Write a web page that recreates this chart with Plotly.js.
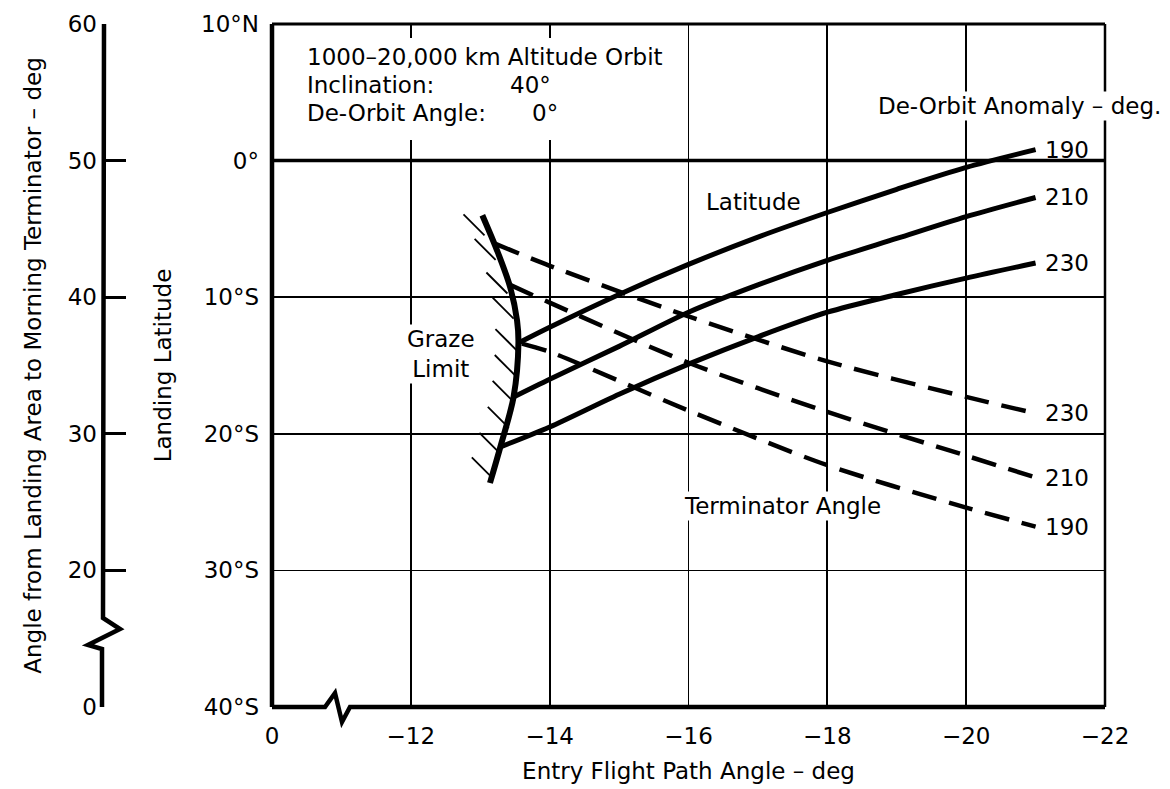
<!DOCTYPE html>
<html><head><meta charset="utf-8">
<script src="https://cdn.plot.ly/plotly-3.0.1.min.js"></script>
<style>html,body{margin:0;padding:0;background:#fff}</style>
</head><body>
<div id="chart" style="width:1170px;height:789px"></div>
<script>
// ---------- axis ticks ----------
// Entry flight path angle: the "0" tick sits at the axis-break position (-10)
const xTickVals = [-10, -12, -14, -16, -18, -20, -22];
const xTickText = ['0', '\u221212', '\u221214', '\u221216', '\u221218', '\u221220', '\u221222'];
// Landing latitude
const latTickVals = [10, 0, -10, -20, -30, -40];
const latTickText = ['10\u00b0N', '0\u00b0', '10\u00b0S', '20\u00b0S', '30\u00b0S', '40\u00b0S'];
// Angle from landing area to morning terminator (the "0" tick sits at the break position 10)
const termTickVals = [10, 20, 30, 40, 50, 60];
const termTickText = ['0', '20', '30', '40', '50', '60'];

// ---------- landing latitude curves (solid), by de-orbit anomaly ----------
const lat190X = [-13.55, -14, -15, -16, -17, -18, -19, -20, -21];
const lat190Y = [-13.35, -12.2, -9.8, -7.6, -5.6, -3.8, -2.1, -0.5, 0.8];
const lat210X = [-13.48, -14, -15, -16, -17, -18, -19, -20, -21];
const lat210Y = [-17.3, -16.0, -13.6, -11.1, -9.1, -7.3, -5.7, -4.1, -2.7];
const lat230X = [-13.29, -14, -15, -16, -17, -18, -19, -20, -21];
const lat230Y = [-20.96, -19.5, -17.1, -14.9, -12.9, -11.1, -9.8, -8.6, -7.5];

// ---------- terminator angle curves (dashed, left scale, deg) ----------
const term230X = [-13.22, -14, -16, -18, -20, -21];
const term230Y = [43.9, 42.3, 38.6, 35.3, 32.7, 31.5];
const term210X = [-13.43, -14, -16, -18, -20, -21];
const term210Y = [40.9, 39.6, 35.2, 31.6, 28.4, 26.8];
const term190X = [-13.6, -14, -16, -18, -20, -21];
const term190Y = [36.6, 36.0, 31.7, 27.7, 24.6, 23.2];

// ---------- graze limit ----------
const grazeX = [-13.03, -13.24, -13.43, -13.53, -13.55, -13.48, -13.29, -13.14];
const grazeY = [-4.0, -6.55, -9.25, -11.7, -13.35, -17.3, -20.96, -23.6];
// hatch marks on the forbidden side of the graze limit
const hatchX = [-12.91, -13.07, -13.24, -13.33, -13.37, -13.36, -13.33, -13.26, -13.14, -13.03];
const hatchY = [-4.7, -6.5, -8.96, -10.8, -13.1, -15.0, -16.9, -18.8, -20.7, -22.5];

// ---------- styling / geometry helpers (decoration only) ----------
const FONT = 'DejaVu Sans';
const FS = 23;
const M = {l: 60, r: 65, t: 24, b: 82};
const W = 1170, H = 789;
const PW = W - M.l - M.r, PH = H - M.t - M.b;
const PX = p => (p - M.l) / PW;        // pixel x -> paper x
const PY = p => (H - M.b - p) / PH;     // pixel y -> paper y
const LEFT = 272, RIGHT = W - M.r, TOP = M.t, BOT = H - M.b;

const solid = (x, y, name) => ({x, y, name, type: 'scatter', mode: 'lines',
  line: {color: '#000', width: 5, shape: 'spline', smoothing: 0.8}, hoverinfo: 'skip'});
const dashed = (x, y, name) => ({x, y, name, type: 'scatter', mode: 'lines', yaxis: 'y2',
  line: {color: '#000', width: 4.5, dash: '25px,13px', shape: 'spline', smoothing: 0.8}, hoverinfo: 'skip'});

const traces = [
  solid(lat190X, lat190Y, 'Latitude 190'),
  solid(lat210X, lat210Y, 'Latitude 210'),
  solid(lat230X, lat230Y, 'Latitude 230'),
  dashed(term190X, term190Y, 'Terminator 190'),
  dashed(term210X, term210Y, 'Terminator 210'),
  dashed(term230X, term230Y, 'Terminator 230'),
  {x: grazeX, y: grazeY, name: 'Graze limit', type: 'scatter', mode: 'lines',
   line: {color: '#000', width: 6, shape: 'spline', smoothing: 0.9}, hoverinfo: 'skip'},
  {x: hatchX, y: hatchY, name: 'hatch', type: 'scatter', mode: 'markers',
   marker: {symbol: 'line-nw', size: 21, color: '#000', line: {color: '#000', width: 1.8}}, hoverinfo: 'skip'}
];

const ln = (x0, y0, x1, y1, w) => ({type: 'line', xref: 'paper', yref: 'paper',
  x0: PX(x0), y0: PY(y0), x1: PX(x1), y1: PY(y1), line: {color: '#000', width: w}, layer: 'above'});
const pathP = (pts, w) => ({type: 'path', xref: 'paper', yref: 'paper', layer: 'above',
  path: pts.map((p, i) => (i ? 'L' : 'M') + PX(p[0]) + ',' + PY(p[1])).join(' '),
  line: {color: '#000', width: w}});

const shapes = [
  // white gap behind the orbit description
  {type: 'rect', xref: 'paper', yref: 'paper', x0: PX(300), x1: PX(665), y0: PY(140), y1: PY(38),
   fillcolor: '#fff', line: {width: 0}, layer: 'above'},
  // white gap behind the x-axis break
  {type: 'rect', xref: 'paper', yref: 'paper', x0: PX(322), x1: PX(353), y0: PY(713), y1: PY(701),
   fillcolor: '#fff', line: {width: 0}, layer: 'above'},
  ln(LEFT, TOP, LEFT, BOT, 4.5),
  ln(LEFT, TOP, RIGHT, TOP, 3),
  ln(RIGHT, TOP, RIGHT, BOT, 2.5),
  pathP([[LEFT, BOT], [325, BOT], [335, 693], [342, 722], [350, BOT], [RIGHT, BOT]], 4.5),
  // equator emphasised
  {type: 'line', xref: 'x', yref: 'y', x0: -10, x1: -22, y0: 0, y1: 0, line: {color: '#000', width: 3.5}, layer: 'above'},
  // terminator scale spine with its break
  pathP([[104, TOP], [103, 618], [120, 629], [88, 645], [102, 649], [102, BOT]], 4.5)
];

const ann = (text, x, y, opts) => Object.assign({text, x: PX(x), y: PY(y), xref: 'paper', yref: 'paper',
  showarrow: false, xanchor: 'center', yanchor: 'middle', font: {family: FONT, size: FS, color: '#000'}}, opts || {});

const annotations = [
  ann('1000\u201320,000 km Altitude Orbit', 305, 57, {xanchor: 'left'}),
  ann('Inclination:', 305, 85, {xanchor: 'left'}),
  ann('40\u00b0', 508, 85, {xanchor: 'left'}),
  ann('De-Orbit Angle:', 305, 113, {xanchor: 'left'}),
  ann('0\u00b0', 530, 113, {xanchor: 'left'}),
  ann('De-Orbit Anomaly \u2013 deg.', 1163, 106, {xanchor: 'right', bgcolor: '#fff'}),
  ann('Latitude', 753, 202),
  ann('Terminator Angle', 782, 506, {bgcolor: '#fff'}),
  ann('Graze<br>Limit', 441, 354, {bgcolor: '#fff'}),
];
// curve-end labels, placed at the last value of each series
[[lat190X, lat190Y, '190', 'y'], [lat210X, lat210Y, '210', 'y'], [lat230X, lat230Y, '230', 'y'],
 [term230X, term230Y, '230', 'y2'], [term210X, term210Y, '210', 'y2'], [term190X, term190Y, '190', 'y2']]
.forEach(([xs, ys, t, yr]) => annotations.push({text: t, x: xs[xs.length - 1] - 0.45, y: ys[ys.length - 1],
  xref: 'x', yref: yr, showarrow: false, xanchor: 'center', yanchor: 'middle',
  font: {family: FONT, size: FS, color: '#000'}}));

const layout = {
  width: W, height: H, margin: M, showlegend: false,
  paper_bgcolor: '#fff', plot_bgcolor: '#fff',
  font: {family: FONT, size: FS, color: '#000'},
  xaxis: {domain: [PX(LEFT), 1], range: [-10, -22], tickvals: xTickVals, ticktext: xTickText,
    showgrid: true, gridcolor: '#000', gridwidth: 1.8, zeroline: false, showline: false, ticks: '',
    ticklabelstandoff: 13, tickfont: {family: FONT, size: FS},
    title: {text: 'Entry Flight Path Angle \u2013 deg', font: {family: FONT, size: FS}, standoff: 14}},
  yaxis: {range: [-40, 10], tickvals: latTickVals, ticktext: latTickText,
    showgrid: true, gridcolor: '#000', gridwidth: 1.8, zeroline: false, showline: false, ticks: '',
    ticklabelstandoff: 12, tickfont: {family: FONT, size: FS},
    title: {text: 'Landing Latitude', font: {family: FONT, size: FS}, standoff: 22}},
  yaxis2: {overlaying: 'y', anchor: 'free', position: PX(103), side: 'left', range: [10, 60],
    tickvals: termTickVals, ticktext: termTickText, showgrid: false, zeroline: false, showline: false,
    ticks: 'inside', ticklen: 22, tickwidth: 3, tickcolor: '#000', ticklabelstandoff: 6,
    tickfont: {family: FONT, size: FS},
    title: {text: 'Angle from Landing Area to Morning Terminator \u2013 deg', font: {family: FONT, size: FS}, standoff: 18}},
  shapes, annotations
};

Plotly.newPlot('chart', traces, layout, {staticPlot: true, displayModeBar: false});
</script>
</body></html>
